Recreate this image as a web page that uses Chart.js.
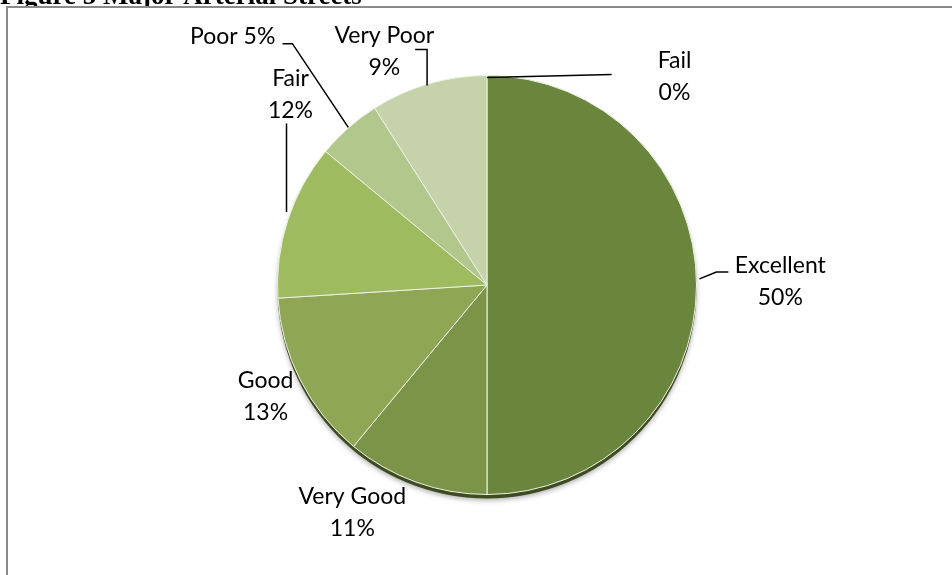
<!DOCTYPE html>
<html lang="en">
<head>
   <meta charset="UTF-8">
   <title>Figure 5 Major Arterial Streets</title>
   <style>
      html, body { margin: 0; padding: 0; background: #fff; }
      .wrap { position: relative; width: 952px; height: 575px; overflow: hidden; }
      .frame {
         position: absolute; left: 6px; top: 6px; width: 960px; height: 600px;
         border-top: 2px solid #8a8a8a; border-left: 2px solid #8a8a8a;
      }
      canvas { position: absolute; left: 0; top: 0; }
   </style>
   <script src="https://cdn.jsdelivr.net/npm/chart.js@4/dist/chart.umd.min.js"></script>
</head>
<body>
   <div class="wrap">
      <div class="frame"></div>
      <canvas id="pie" width="952" height="575"></canvas>
   </div>

   <script>
      // data
      const figTitle = 'Figure 5 Major Arterial Streets';
      const categories = ['Excellent', 'Very Good', 'Good', 'Fair', 'Poor', 'Very Poor', 'Fail'];
      const shares = [50, 11, 13, 12, 5, 9, 0];
      const sliceColors = ['#6a853c', '#7b9448', '#8fa655', '#9fbb5f', '#b2c78c', '#c6d2aa', '#c6d2aa'];

      // where each label sits, relative to the pie centre (in radii), and its leader line
      const labelSpots = {
         'Excellent': { dx: 1.40, dy: -0.014, oneLine: false, lead: [[1.014, -0.029], [1.095, -0.062], [1.152, -0.062]] },
         'Very Good': { dx: -0.643, dy: 1.086, oneLine: false, lead: null },
         'Good':      { dx: -1.057, dy: 0.533, oneLine: false, lead: null },
         'Fair':      { dx: -0.938, dy: -0.910, oneLine: false, lead: [[-0.957, -0.348], [-0.957, -0.771]] },
         'Poor':      { dx: -1.214, dy: -1.186, oneLine: true,  lead: [[-0.662, -0.752], [-0.929, -1.152], [-0.976, -1.152]] },
         'Very Poor': { dx: -0.490, dy: -1.114, oneLine: false, lead: [[-0.286, -0.952], [-0.286, -1.124], [-0.343, -1.124]] },
         'Fail':      { dx: 0.895, dy: -0.995, oneLine: false, lead: [[0.000, -0.990], [0.595, -1.005]] }
      };

      const rimPlugin = {
         id: 'rim',
         beforeDatasetsDraw(chart) {
            const arc = chart.getDatasetMeta(0).data[0];
            const { x, y, outerRadius } = arc;
            const c = chart.ctx;
            c.save();
            c.shadowColor = 'rgba(0,0,0,0.3)';
            c.shadowBlur = 5;
            c.shadowOffsetY = 2;
            c.fillStyle = '#3f4c22';
            c.beginPath();
            c.arc(x, y + 4, outerRadius, 0, Math.PI * 2);
            c.fill();
            c.restore();
         }
      };

      const labelPlugin = {
         id: 'sliceLabels',
         afterDraw(chart) {
            const meta = chart.getDatasetMeta(0);
            const { x, y, outerRadius: r } = meta.data[0];
            const c = chart.ctx;
            c.save();
            c.font = '23px Lato, "Open Sans", sans-serif';
            c.fillStyle = '#000';
            c.textAlign = 'center';
            c.textBaseline = 'middle';
            c.strokeStyle = '#000';
            c.lineWidth = 1.5;
            categories.forEach((name, i) => {
               const s = labelSpots[name];
               const lx = x + s.dx * r, ly = y + s.dy * r;
               const pct = shares[i] + '%';
               if (s.oneLine) {
                  c.fillText(name + ' ' + pct, lx, ly);
               } else {
                  c.fillText(name, lx, ly - 16);
                  c.fillText(pct, lx, ly + 16);
               }
               if (s.lead) {
                  c.beginPath();
                  s.lead.forEach((p, k) => {
                     const px = x + p[0] * r, py = y + p[1] * r;
                     if (k === 0) c.moveTo(px, py); else c.lineTo(px, py);
                  });
                  c.stroke();
               }
            });
            c.restore();

            // figure caption, cut off by the top of the page
            c.save();
            c.beginPath();
            c.rect(0, 0, chart.width, 6);
            c.clip();
            c.font = 'bold 27px "Liberation Serif", "DejaVu Serif", serif';
            c.fillStyle = '#000';
            c.textAlign = 'left';
            c.textBaseline = 'alphabetic';
            c.fillText(figTitle, 0, 4);
            c.restore();
         }
      };

      new Chart(document.getElementById('pie'), {
         type: 'pie',
         data: {
            labels: categories,
            datasets: [{
               data: shares,
               backgroundColor: sliceColors,
               borderColor: '#eef2e6',
               borderWidth: 1
            }]
         },
         options: {
            responsive: false,
            animation: false,
            rotation: 0,
            layout: { padding: { left: 277, right: 255, top: 75, bottom: 80 } },
            plugins: {
               legend: { display: false },
               tooltip: { enabled: false }
            }
         },
         plugins: [rimPlugin, labelPlugin]
      });
   </script>
</body>
</html>
